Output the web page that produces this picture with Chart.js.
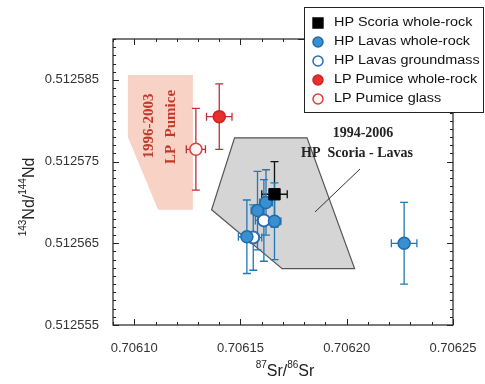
<!DOCTYPE html>
<html>
<head>
<meta charset="utf-8">
<script src="https://cdn.jsdelivr.net/npm/chart.js@4"></script>
<style>
  body { margin: 0; background: #fff; }
</style>
</head>
<body>
<canvas id="srNdChart" width="485" height="384"></canvas>
<script>
// axis ticks
const xTicks = [0.70610, 0.70615, 0.70620, 0.70625];
const xTickLabels = ['0.70610', '0.70615', '0.70620', '0.70625'];
const yTicks = [0.512555, 0.512565, 0.512575, 0.512585];
const yTickLabels = ['0.512555', '0.512565', '0.512575', '0.512585'];

// HP Scoria whole-rock
const scoriaX = [0.706166];
const scoriaY = [0.512571];
const scoriaXErr = [0.000006];
const scoriaYErr = [0.000004];

// HP Lavas whole-rock
const lavaX = [0.706227, 0.706158, 0.706166, 0.706153, 0.706162];
const lavaY = [0.512565, 0.512569, 0.5125677, 0.5125658, 0.512570];
const lavaXErr = [0.000006, 0.000003, 0.000003, 0.000004, 0.000003];
const lavaYErr = [0.000005, 0.0000048, 0.0000047, 0.0000045, 0.000004];

// HP Lavas groundmass
const groundX = [0.706161, 0.706156];
const groundY = [0.5125678, 0.5125657];
const groundXErr = [0.000004, 0.000004];
const groundYErr = [0.000005, 0.000004];

// LP Pumice whole-rock
const pumiceX = [0.706140];
const pumiceY = [0.5125805];
const pumiceXErr = [0.000006];
const pumiceYErr = [0.000004];

// LP Pumice glass
const glassX = [0.706129];
const glassY = [0.5125765];
const glassXErr = [0.0000045];
const glassYErr = [0.000005];

// fields
const lpFieldX = [0.706097, 0.7061276, 0.7061276, 0.7061112, 0.706097];
const lpFieldY = [0.5125856, 0.5125856, 0.5125691, 0.5125691, 0.512578];
const hpFieldX = [0.7061472, 0.7061813, 0.7062037, 0.7061696, 0.7061364];
const hpFieldY = [0.5125779, 0.5125779, 0.5125619, 0.5125619, 0.5125691];

const pts = (xs, ys) => xs.map((x, i) => ({ x: x, y: ys[i] }));

function drawField(ctx, xs, ys, x, y, fill, stroke) {
  ctx.beginPath();
  xs.forEach((v, i) => {
    const px = x.getPixelForValue(v), py = y.getPixelForValue(ys[i]);
    if (i === 0) ctx.moveTo(px, py); else ctx.lineTo(px, py);
  });
  ctx.closePath();
  ctx.fillStyle = fill;
  ctx.fill();
  if (stroke) {
    ctx.strokeStyle = stroke;
    ctx.lineWidth = 1.2;
    ctx.stroke();
  }
}

const decor = {
  id: 'decor',
  beforeDatasetsDraw(chart) {
    const ctx = chart.ctx, x = chart.scales.x, y = chart.scales.y, a = chart.chartArea;
    ctx.save();
    ctx.beginPath();
    ctx.rect(a.left, a.top, a.right - a.left, a.bottom - a.top);
    ctx.clip();

    drawField(ctx, lpFieldX, lpFieldY, x, y, '#f9d2c6', null);
    drawField(ctx, hpFieldX, hpFieldY, x, y, '#d5d5d5', '#555');

    // field labels
    ctx.fillStyle = '#222';
    ctx.font = 'bold 14px "Liberation Serif"';
    ctx.textAlign = 'center';
    ctx.textBaseline = 'middle';
    ctx.fillText('1994-2006', 363, 133);
    ctx.fillText('HP  Scoria - Lavas', 357, 153);
    ctx.strokeStyle = '#333';
    ctx.lineWidth = 1;
    ctx.beginPath();
    ctx.moveTo(315, 212);
    ctx.lineTo(360, 169);
    ctx.stroke();

    ctx.font = 'bold 15px "Liberation Serif"';
    ctx.save();
    ctx.fillStyle = '#c0392b';
    ctx.translate(149, 126);
    ctx.rotate(-Math.PI / 2);
    ctx.fillText('1996-2003', 0, 0);
    ctx.restore();
    ctx.save();
    ctx.fillStyle = '#c0392b';
    ctx.translate(171, 127);
    ctx.rotate(-Math.PI / 2);
    ctx.fillText('LP  Pumice', 0, 0);
    ctx.restore();

    // error bars
    chart.data.datasets.forEach(ds => {
      ctx.strokeStyle = ds.errColor;
      ctx.lineWidth = 1.3;
      ds.data.forEach((p, i) => {
        const px = x.getPixelForValue(p.x), py = y.getPixelForValue(p.y);
        const x0 = x.getPixelForValue(p.x - ds.xErr[i]), x1 = x.getPixelForValue(p.x + ds.xErr[i]);
        const y0 = y.getPixelForValue(p.y - ds.yErr[i]), y1 = y.getPixelForValue(p.y + ds.yErr[i]);
        ctx.beginPath();
        ctx.moveTo(x0, py); ctx.lineTo(x1, py);
        ctx.moveTo(x0, py - 4); ctx.lineTo(x0, py + 4);
        ctx.moveTo(x1, py - 4); ctx.lineTo(x1, py + 4);
        ctx.moveTo(px, y0); ctx.lineTo(px, y1);
        ctx.moveTo(px - 4, y0); ctx.lineTo(px + 4, y0);
        ctx.moveTo(px - 4, y1); ctx.lineTo(px + 4, y1);
        ctx.stroke();
      });
    });
    ctx.restore();
  },
  afterDraw(chart) {
    const ctx = chart.ctx, x = chart.scales.x, y = chart.scales.y, a = chart.chartArea;
    ctx.save();
    ctx.strokeStyle = '#222';
    ctx.lineWidth = 1.2;
    ctx.strokeRect(a.left, a.top, a.right - a.left, a.bottom - a.top);

    // inward ticks on all sides
    ctx.lineWidth = 1;
    ctx.beginPath();
    for (let i = 0; i <= 16; i++) {
      const v = 0.70609 + i * 0.00001;
      const px = Math.round(x.getPixelForValue(v)) + 0.5;
      const len = (i % 5 === 1) ? 6 : 3;
      ctx.moveTo(px, a.bottom); ctx.lineTo(px, a.bottom - len);
      ctx.moveTo(px, a.top); ctx.lineTo(px, a.top + len);
    }
    for (let i = 0; i <= 35; i++) {
      const v = 0.512555 + i * 0.000001;
      const py = Math.round(y.getPixelForValue(v)) + 0.5;
      const len = (i % 10 === 0) ? 6 : 3;
      ctx.moveTo(a.left, py); ctx.lineTo(a.left + len, py);
      ctx.moveTo(a.right, py); ctx.lineTo(a.right - len, py);
    }
    ctx.stroke();

    // axis titles with superscripts
    ctx.fillStyle = '#222';
    ctx.textBaseline = 'alphabetic';
    ctx.textAlign = 'left';
    const parts = (list) => {
      let w = 0;
      list.forEach(p => { ctx.font = p[1] ? '10px "Liberation Sans"' : '16px "Liberation Sans"'; w += ctx.measureText(p[0]).width; });
      return w;
    };
    const drawParts = (list, sx, base) => {
      let cx = sx;
      list.forEach(p => {
        ctx.font = p[1] ? '10px "Liberation Sans"' : '16px "Liberation Sans"';
        ctx.fillText(p[0], cx, p[1] ? base - 8 : base);
        cx += ctx.measureText(p[0]).width;
      });
    };
    const xTitle = [['87', true], ['Sr/', false], ['86', true], ['Sr', false]];
    drawParts(xTitle, 285 - parts(xTitle) / 2, 376);
    const yTitle = [['143', true], ['Nd/', false], ['144', true], ['Nd', false]];
    ctx.save();
    ctx.translate(34, 197);
    ctx.rotate(-Math.PI / 2);
    drawParts(yTitle, -parts(yTitle) / 2, 0);
    ctx.restore();

    // legend
    ctx.fillStyle = '#fff';
    ctx.fillRect(304, 7, 180, 105);
    ctx.strokeStyle = '#222';
    ctx.lineWidth = 1;
    ctx.strokeRect(304.5, 7.5, 179, 105);
    ctx.beginPath();
    ctx.moveTo(298, 39.5); ctx.lineTo(304, 39.5);
    ctx.stroke();
    chart.data.datasets.forEach((ds, i) => {
      const ly = 23 + i * 19;
      ctx.fillStyle = ds.backgroundColor;
      ctx.strokeStyle = ds.borderColor;
      ctx.lineWidth = 1.5;
      Chart.helpers.drawPoint(ctx, { pointStyle: ds.pointStyle, radius: ds.pointStyle === 'rect' ? 7 : 5, rotation: 0, borderWidth: 1.5 }, 318, ly);
      ctx.save();
      ctx.translate(334, ly);
      ctx.scale(1.2, 1);
      ctx.fillStyle = '#111';
      ctx.font = '12px "Liberation Sans"';
      ctx.textBaseline = 'middle';
      ctx.fillText(ds.label, 0, 0);
      ctx.restore();
    });
    ctx.restore();
  }
};

new Chart(document.getElementById('srNdChart'), {
  type: 'scatter',
  data: {
    datasets: [
      { label: 'HP Scoria whole-rock', data: pts(scoriaX, scoriaY), xErr: scoriaXErr, yErr: scoriaYErr,
        pointStyle: 'rect', pointRadius: 8, backgroundColor: '#000', borderColor: '#000', borderWidth: 1, errColor: '#111' },
      { label: 'HP Lavas whole-rock', data: pts(lavaX, lavaY), xErr: lavaXErr, yErr: lavaYErr,
        pointStyle: 'circle', pointRadius: 6, backgroundColor: '#3a8fd3', borderColor: '#1f6cab', borderWidth: 1.5, errColor: '#2277b5' },
      { label: 'HP Lavas groundmass', data: pts(groundX, groundY), xErr: groundXErr, yErr: groundYErr,
        pointStyle: 'circle', pointRadius: 6, backgroundColor: '#ffffff', borderColor: '#2a6ab8', borderWidth: 2, errColor: '#2277b5' },
      { label: 'LP Pumice whole-rock', data: pts(pumiceX, pumiceY), xErr: pumiceXErr, yErr: pumiceYErr,
        pointStyle: 'circle', pointRadius: 6, backgroundColor: '#e8302c', borderColor: '#d02222', borderWidth: 1.5, errColor: '#b8323a' },
      { label: 'LP Pumice glass', data: pts(glassX, glassY), xErr: glassXErr, yErr: glassYErr,
        pointStyle: 'circle', pointRadius: 6, backgroundColor: '#fff6f2', borderColor: '#d94040', borderWidth: 1.5, errColor: '#b8323a' }
    ]
  },
  options: {
    responsive: false,
    animation: false,
    events: [],
    layout: { padding: { left: 0, top: 39, right: 32, bottom: 0 } },
    plugins: { legend: { display: false }, tooltip: { enabled: false } },
    scales: {
      x: {
        type: 'linear', min: 0.70609, max: 0.70625,
        grid: { display: false }, border: { display: false },
        afterBuildTicks: s => { s.ticks = xTicks.map(v => ({ value: v })); },
        afterFit: s => { s.height = 59; },
        ticks: { padding: 8, color: '#333', font: { family: 'Liberation Sans', size: 13 },
          maxRotation: 0, autoSkip: false, callback: (v, i) => xTickLabels[i] }
      },
      y: {
        type: 'linear', min: 0.512555, max: 0.51259,
        grid: { display: false }, border: { display: false },
        afterBuildTicks: s => { s.ticks = yTicks.map(v => ({ value: v })); },
        afterFit: s => { s.width = 113; },
        ticks: { padding: 6, color: '#333', font: { family: 'Liberation Sans', size: 13 },
          autoSkip: false, callback: (v, i) => yTickLabels[i] }
      }
    }
  },
  plugins: [decor]
});
</script>
</body>
</html>
